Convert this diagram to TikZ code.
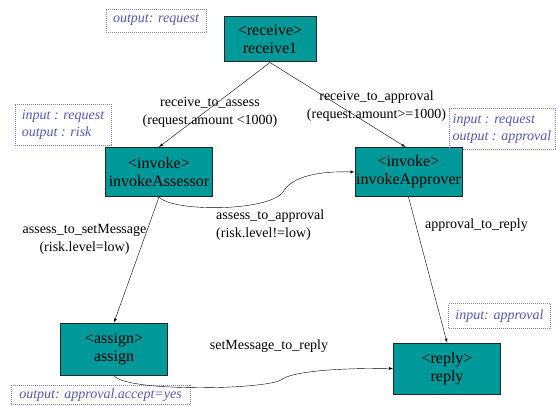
\documentclass[tikz,border=0pt]{standalone}
\usepackage{fontspec}
\setmainfont{Liberation Serif}
\definecolor{boxfill}{RGB}{0,153,153}
\definecolor{annot}{RGB}{85,85,185}
\begin{document}
\begin{tikzpicture}[x=1pt, y=-1pt,
        activity/.style={draw=black!85, line width=1pt, fill=boxfill, align=center,
            minimum width=107pt, minimum height=49pt, inner sep=1pt,
            font=\fontsize{16}{18}\selectfont},
        annotation/.style={draw=annot!75, line width=0.6pt, dash pattern=on 0.7pt off 1.3pt,
            text=annot, align=left, inner sep=2pt,
            font=\fontsize{14}{17}\selectfont\itshape},
        flowlabel/.style={align=center, inner sep=0pt, font=\fontsize{14}{18}\selectfont},
        flow/.style={thin, -latex}]
        \useasboundingbox (0, 0) rectangle (556, 406);
        % activities
        \node[activity, minimum width=92pt, minimum height=45pt] (receive) at (270, 39.5) {<receive>\\receive1};
        \node[activity] (assessor) at (159, 172) {<invoke>\\invokeAssessor};
        \node[activity] (approver) at (408.5, 172) {<invoke>\\invokeApprover};
        \node[activity, minimum height=52pt] (assign) at (114, 349) {<assign>\\assign};
        \node[activity, minimum height=51pt] (reply) at (447, 368.5) {<reply>\\reply};
        % variables
        \node[annotation, minimum width=100pt, minimum height=23pt] (outreq) at (156, 20.5) {output: request};
        \node[annotation, minimum width=96pt, minimum height=41pt] (assessvars) at (63, 124.5) {input : request\\output : risk};
        \node[annotation, minimum width=106pt, minimum height=41pt] (approvervars) at (502, 128.5) {input : request\\output : approval};
        \node[annotation, minimum width=102pt, minimum height=25pt] (inapproval) at (499.5, 316) {input: approval};
        \node[annotation, minimum width=179pt, minimum height=19pt, inner sep=1pt] (outaccept) at (100.5, 395) {output: approval.accept=yes};
        % links
        \draw[flow] (receive.south) -- (assessor.north);
        \draw[flow] (receive.south) -- ([xshift=-3pt]approver.north);
        \draw[flow] (assessor.south) -- (assign.north);
        \draw[flow] (approver.south) -- (reply.north);
        \draw[flow] (assessor.south) .. controls (172, 212) and (268, 212) .. (283, 192)
            .. controls (292, 176) and (320, 171) .. (approver.west);
        \draw[flow] (assign.south) .. controls (125, 392) and (262, 390) .. (281, 380)
            .. controls (292, 371) and (340, 368) .. (reply.west);
        \node[flowlabel] (l1) at (210, 112) {receive\_to\_assess\\(request.amount <1000)};
        \node[flowlabel] (l2) at (376.5, 106) {receive\_to\_approval\\(request.amount>=1000)};
        \node[flowlabel] (l3) at (84.5, 239) {assess\_to\_setMessage\\(risk.level=low)};
        \node[flowlabel, align=left, anchor=west] (l4) at (216, 225) {assess\_to\_approval\\(risk.level!=low)};
        \node[flowlabel] (l5) at (476.5, 225) {approval\_to\_reply};
        \node[flowlabel] (l6) at (269, 346) {setMessage\_to\_reply};
    \end{tikzpicture}
\end{document}
